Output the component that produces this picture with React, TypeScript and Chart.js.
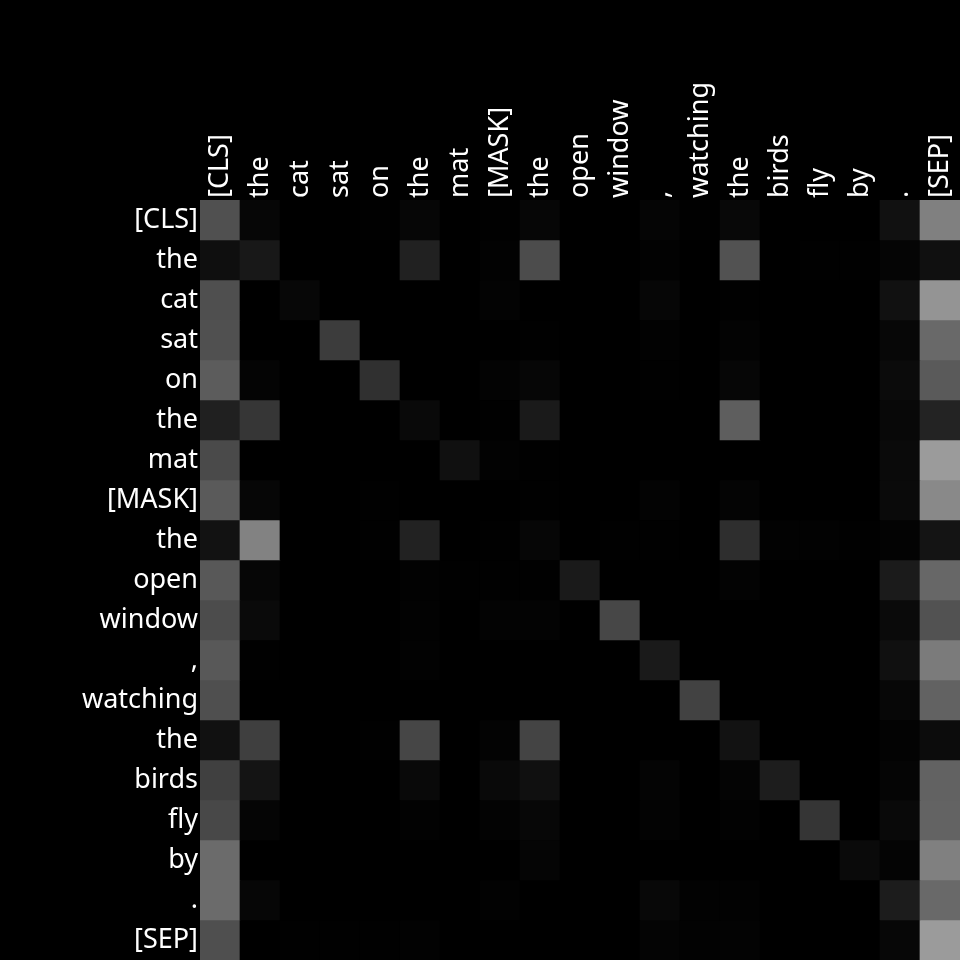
import { useEffect, useRef } from "react";
import { Chart, registerables } from "chart.js";

Chart.register(...registerables);

// Tokens (used both for the rows = queries and columns = keys)
const tokens: string[] = [
  "[CLS]", "the", "cat", "sat", "on", "the", "mat", "[MASK]", "the", "open",
  "window", ",", "watching", "the", "birds", "fly", "by", ".", "[SEP]",
];

// Attention weights (row = query token, column = key token), 0..1 → gray level
const attention: number[][] = [
  [0.314, 0.024, 0, 0, 0.004, 0.024, 0, 0.004, 0.024, 0, 0, 0.02, 0.004, 0.031, 0, 0, 0, 0.067, 0.502],
  [0.059, 0.094, 0, 0, 0, 0.129, 0, 0.008, 0.298, 0, 0, 0.008, 0, 0.322, 0, 0.004, 0.004, 0.02, 0.063],
  [0.31, 0, 0.027, 0, 0, 0, 0, 0.012, 0, 0, 0, 0.024, 0, 0.004, 0, 0, 0, 0.067, 0.58],
  [0.314, 0, 0, 0.235, 0, 0, 0, 0, 0.004, 0, 0, 0.008, 0, 0.012, 0, 0, 0, 0.027, 0.412],
  [0.361, 0.016, 0, 0, 0.188, 0, 0, 0.012, 0.024, 0, 0, 0.004, 0, 0.024, 0, 0, 0, 0.043, 0.353],
  [0.125, 0.212, 0, 0, 0, 0.035, 0, 0.004, 0.102, 0, 0, 0, 0, 0.369, 0, 0, 0, 0.031, 0.137],
  [0.29, 0, 0, 0, 0, 0, 0.063, 0.008, 0.004, 0, 0, 0, 0, 0, 0, 0, 0, 0.039, 0.608],
  [0.353, 0.024, 0, 0, 0.004, 0, 0, 0, 0.004, 0, 0, 0.012, 0, 0.016, 0, 0, 0, 0.039, 0.537],
  [0.071, 0.51, 0, 0, 0.004, 0.133, 0, 0.004, 0.024, 0, 0.004, 0.004, 0, 0.18, 0.008, 0.008, 0.004, 0.012, 0.078],
  [0.345, 0.024, 0, 0, 0, 0.008, 0.004, 0.004, 0.004, 0.102, 0, 0, 0, 0.012, 0, 0, 0, 0.106, 0.404],
  [0.298, 0.039, 0, 0, 0, 0.008, 0, 0.012, 0.012, 0, 0.278, 0, 0, 0, 0, 0, 0, 0.039, 0.322],
  [0.345, 0.004, 0, 0, 0, 0.008, 0, 0, 0, 0, 0, 0.102, 0, 0, 0, 0, 0, 0.063, 0.482],
  [0.31, 0, 0, 0, 0, 0, 0, 0, 0, 0, 0, 0, 0.259, 0, 0, 0, 0, 0.027, 0.384],
  [0.067, 0.247, 0, 0, 0.004, 0.275, 0, 0.012, 0.267, 0, 0, 0, 0, 0.071, 0, 0, 0, 0.012, 0.047],
  [0.251, 0.078, 0, 0, 0, 0.035, 0, 0.035, 0.063, 0, 0, 0.016, 0, 0.016, 0.114, 0, 0, 0.02, 0.384],
  [0.282, 0.02, 0, 0, 0, 0.008, 0, 0.012, 0.027, 0, 0, 0.012, 0, 0.008, 0, 0.208, 0, 0.035, 0.388],
  [0.42, 0, 0, 0, 0, 0, 0, 0, 0.02, 0, 0, 0, 0, 0, 0, 0, 0.039, 0.016, 0.502],
  [0.42, 0.024, 0, 0, 0, 0, 0, 0.008, 0, 0, 0, 0.031, 0.008, 0.008, 0, 0, 0, 0.11, 0.412],
  [0.31, 0, 0.004, 0.004, 0.004, 0.008, 0, 0, 0, 0, 0, 0.016, 0.008, 0.012, 0, 0, 0, 0.027, 0.608],
];

function gray(v: number): string {
  const g = Math.round(Math.max(0, Math.min(1, v)) * 255);
  return `rgb(${g},${g},${g})`;
}

const labelFont = { family: "'Noto Sans', sans-serif", size: 27 };

export default function App() {
  const ref = useRef<HTMLCanvasElement>(null);

  useEffect(() => {
    document.body.style.margin = "0";
    document.body.style.background = "#000";
    if (!ref.current) return;

    const datasets = attention.map((row, r) => ({
      label: tokens[r],
      data: row.map(() => 1),
      backgroundColor: row.map(gray),
      borderWidth: 0,
      barPercentage: 1,
      categoryPercentage: 1,
      xAxisID: "x",
      yAxisID: "y",
    }));

    const chart = new Chart(ref.current, {
      type: "bar",
      data: { labels: tokens, datasets },
      options: {
        animation: false,
        responsive: false,
        maintainAspectRatio: false,
        layout: { padding: 0 },
        plugins: {
          legend: { display: false },
          tooltip: { enabled: false },
        },
        scales: {
          x: {
            type: "category",
            position: "top",
            stacked: true,
            offset: true,
            grid: { display: false, drawTicks: false },
            border: { display: false },
            ticks: {
              color: "#ffffff",
              font: labelFont,
              minRotation: 90,
              maxRotation: 90,
              autoSkip: false,
              padding: 2,
              labelOffset: 33,
            },
            afterFit: (s: any) => {
              s.height = 200;
              s.paddingLeft = 0;
              s.paddingRight = 0;
            },
          },
          y: {
            type: "linear",
            stacked: true,
            reverse: true,
            min: 0,
            max: tokens.length,
            display: false,
          },
          rows: {
            type: "category",
            labels: tokens,
            position: "left",
            offset: true,
            grid: { display: false, drawTicks: false },
            border: { display: false },
            ticks: {
              color: "#ffffff",
              font: labelFont,
              autoSkip: false,
              padding: 2,
            },
            afterFit: (s: any) => {
              s.width = 200;
              s.paddingTop = 0;
              s.paddingBottom = 0;
            },
          },
        } as any,
      },
    });
    return () => chart.destroy();
  }, []);

  return (
    <div
      style={{
        position: "fixed",
        left: 0,
        top: 0,
        width: 960,
        height: 960,
        background: "#000",
      }}
    >
      <canvas ref={ref} width={960} height={960} style={{ display: "block" }} />
    </div>
  );
}
